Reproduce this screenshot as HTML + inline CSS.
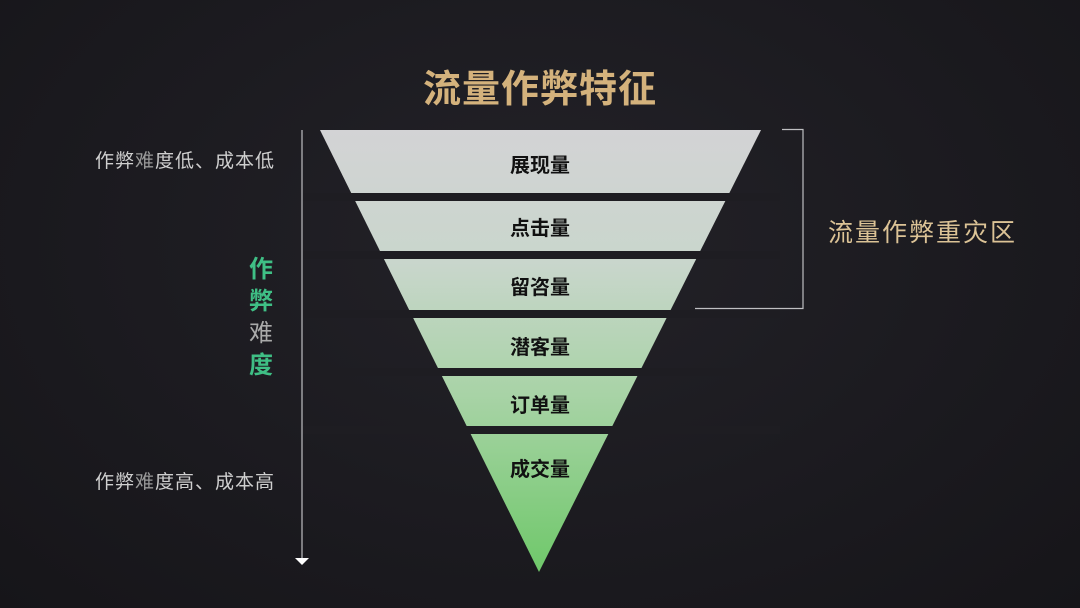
<!DOCTYPE html>
<html><head><meta charset="utf-8"><style>
html,body{margin:0;padding:0}
body{width:1080px;height:608px;overflow:hidden;background:radial-gradient(ellipse at 50% 40%,#232228 0%,#1b1a1f 60%,#161519 100%);font-family:"Liberation Sans","Noto Sans CJK SC",sans-serif;position:relative}
.t{position:absolute;white-space:nowrap}
</style></head><body>
<svg width="1080" height="608" style="position:absolute;left:0;top:0">
<defs>
<linearGradient id="g" x1="0" y1="130" x2="0" y2="572" gradientUnits="userSpaceOnUse">
<stop offset="0" stop-color="#d3d3d5"/>
<stop offset="0.3" stop-color="#c9d6cc"/>
<stop offset="0.6" stop-color="#a8d3a6"/>
<stop offset="1" stop-color="#6fc86a"/>
</linearGradient>
</defs>
<polygon points="320,130 761,130 539,572" fill="url(#g)"/>
<g fill="#1e1d22">
<rect x="300" y="193" width="480" height="8"/>
<rect x="300" y="251" width="480" height="8"/>
<rect x="300" y="310" width="480" height="8"/>
<rect x="300" y="368" width="480" height="8"/>
<rect x="300" y="426" width="480" height="8"/>
</g>
<g stroke="#bfbfc2" stroke-width="1.2" fill="none">
<polyline points="782,129.5 803,129.5 803,308.5 695,308.5"/>
<line x1="302" y1="130" x2="302" y2="558"/>
</g>
<polygon points="295,558 309,558 302,565" fill="#fff"/>
</svg>
<div class="t" style="left:0;width:1080px;text-align:center;top:58px;font-size:38px;font-weight:bold;color:#d4b27c;letter-spacing:1px">流量作弊特征</div>
<div class="t" style="left:440px;width:200px;text-align:center;top:149px;font-size:20px;font-weight:bold;color:#111">展现量</div>
<div class="t" style="left:440px;width:200px;text-align:center;top:212px;font-size:20px;font-weight:bold;color:#111">点击量</div>
<div class="t" style="left:440px;width:200px;text-align:center;top:271px;font-size:20px;font-weight:bold;color:#111">留咨量</div>
<div class="t" style="left:440px;width:200px;text-align:center;top:331px;font-size:20px;font-weight:bold;color:#111">潜客量</div>
<div class="t" style="left:440px;width:200px;text-align:center;top:389px;font-size:20px;font-weight:bold;color:#111">订单量</div>
<div class="t" style="left:440px;width:200px;text-align:center;top:453px;font-size:20px;font-weight:bold;color:#111">成交量</div>
<div class="t" style="left:828px;top:213px;font-size:25px;color:#dcc396;letter-spacing:2px">流量作弊重灾区</div>
<div class="t" style="left:95px;top:146px;font-size:19px;color:#cfcfcf;letter-spacing:1px">作弊<span style="color:#999">难</span>度低、成本低</div>
<div class="t" style="left:95px;top:467px;font-size:19px;color:#cfcfcf;letter-spacing:1px">作弊<span style="color:#999">难</span>度高、成本高</div>
<div class="t" style="left:249px;top:254px;font-size:24px;line-height:32px;color:#3fbf85;font-weight:bold">作<br>弊<br><span style="color:#aaa;font-weight:normal">难</span><br>度</div>
</body></html>
